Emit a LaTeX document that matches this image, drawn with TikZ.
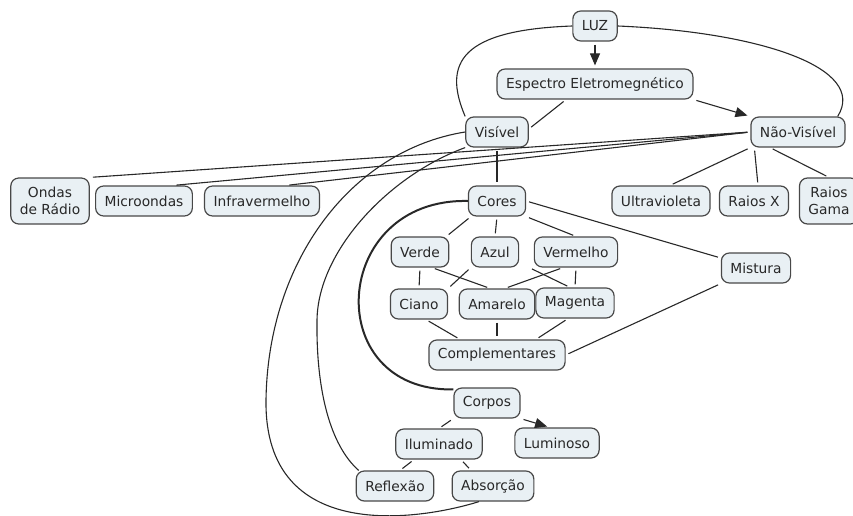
\documentclass[tikz,border=0pt]{standalone}
\usepackage{fontspec}
\setmainfont{DejaVu Sans}
\usepackage{xcolor}
\usetikzlibrary{calc, arrows.meta}

\definecolor{boxfill}{RGB}{233,240,244}
\definecolor{boxline}{RGB}{72,72,72}
\definecolor{ink}{RGB}{40,40,40}

\tikzset{
	concept/.style = {draw=boxline, fill=boxfill, rounded corners=8pt, line width=1.2pt,
		minimum height=30pt, inner xsep=9pt, inner ysep=2pt, text=ink,
		font=\fontsize{13.8}{17}\selectfont, align=center},
	tall/.style = {minimum height=46pt},
	link/.style = {draw=ink, line width=1.1pt, shorten <=3pt, shorten >=3pt},
	arr/.style = {link, -{Triangle[width=10pt, length=12pt]}},
}

\begin{document}
\begin{tikzpicture}[x=1pt, y=-1pt]
			\useasboundingbox (0,0) rectangle (853,516);
			
			% luz e espectro
			\node[concept] (luz) at (595,26) {LUZ};
			\node[concept] (esp) at (595,84) {Espectro Eletromegnético};
			\node[concept] (vis) at (497,132) {Visível};
			\node[concept] (nv) at (798,132) {Não-Visível};
			
			% nao visivel
			\node[concept, tall] (ondas) at (50,201) {Ondas\\de Rádio};
			\node[concept] (micro) at (144,201) {Microondas};
			\node[concept] (infra) at (262,201) {Infravermelho};
			\node[concept] (uv) at (661,201) {Ultravioleta};
			\node[concept] (rx) at (754,201) {Raios X};
			\node[concept, tall] (gama) at (829,201) {Raios\\Gama};
			
			% cores
			\node[concept] (cores) at (497,201) {Cores};
			\node[concept] (verde) at (420,252) {Verde};
			\node[concept] (azul) at (495,252) {Azul};
			\node[concept] (verm) at (576,252) {Vermelho};
			\node[concept] (mist) at (756,268) {Mistura};
			\node[concept] (ciano) at (419,304) {Ciano};
			\node[concept] (amar) at (497,304) {Amarelo};
			\node[concept] (mag) at (575,303) {Magenta};
			\node[concept] (compl) at (497,355) {Complementares};
			
			% corpos
			\node[concept] (corpos) at (487,403) {Corpos};
			\node[concept] (lum) at (557,443) {Luminoso};
			\node[concept] (ilum) at (439,444) {Iluminado};
			\node[concept] (refl) at (395,486) {Reflexão};
			\node[concept] (absor) at (493,486) {Absorção};
			
			\begin{scope}[arr]
				\draw (luz.south) -- (esp.north);
				\draw (esp.south east) -- (nv.north west);
				\draw (corpos.south east) -- ([xshift=-7pt]lum.north);
			\end{scope}
			
			\begin{scope}[link]
				\draw ([xshift=-29pt]esp.south) -- ([yshift=3pt]vis.east);
				\draw (vis.south) -- (cores.north);
				
				\draw (nv.west) -- (ondas.north east);
				\draw (nv.west) -- ($(micro.north)!0.6!(micro.north east)$);
				\draw (nv.west) -- ($(infra.north)!0.42!(infra.north east)$);
				\draw (nv.south west) -- ([xshift=9pt]uv.north);
				\draw ([xshift=4pt]nv.south west) -- ([xshift=4pt]rx.north);
				\draw ([xshift=-28pt]nv.south) -- (gama.north);
				
				\draw ([xshift=3pt]cores.south west) -- ([xshift=-3pt]verde.north east);
				\draw (cores.south) -- (azul.north);
				\draw (cores.south east) -- (verm.north);
				\draw (cores.east) -- ([yshift=10pt]mist.west);
				
				\draw (verde.south) -- (ciano.north);
				\draw ([xshift=12pt]verde.south) -- ([xshift=-7pt]amar.north);
				\draw (azul.south west) -- (ciano.north east);
				\draw ([xshift=10pt]azul.south east) -- ([xshift=-5pt]mag.north);
				\draw ([xshift=-13pt]verm.south) -- ([xshift=8pt]amar.north);
				\draw (verm.south) -- (mag.north);
				
				\draw ([xshift=7pt]ciano.south) -- ([xshift=-37pt]compl.north);
				\draw (amar.south) -- (compl.north);
				\draw ([xshift=-7pt]mag.south) -- ([xshift=39pt]compl.north);
				\draw (mist.south west) -- (compl.east);
				
				\draw (corpos.south west) -- (ilum.north);
				\draw ([xshift=-25pt]ilum.south) -- ([xshift=5pt]refl.north);
				\draw ([xshift=22pt]ilum.south) -- ([xshift=-22pt]absor.north);
			\end{scope}
			
			% ligacoes curvas
			\begin{scope}[draw=ink, line width=1.1pt]
				\draw (luz.west) .. controls (462,30) and (442,62) .. (vis.north west);
				\draw (luz.east) .. controls (760,32) and (868,68) .. ([xshift=-8pt]nv.north east);
				\draw (vis.west) .. controls (352,150) and (268,260) .. (266,400)
					.. controls (264,545) and (420,520) .. ([xshift=-14pt]absor.south);
				\draw (vis.south west) .. controls (390,175) and (318,250) .. (317,320)
					.. controls (316,390) and (330,445) .. ([xshift=3pt]refl.north west);
				\draw[line width=2pt] (cores.west) .. controls (330,198) and (320,392) .. ([yshift=-2pt]corpos.north west);
			\end{scope}
		\end{tikzpicture}
\end{document}
